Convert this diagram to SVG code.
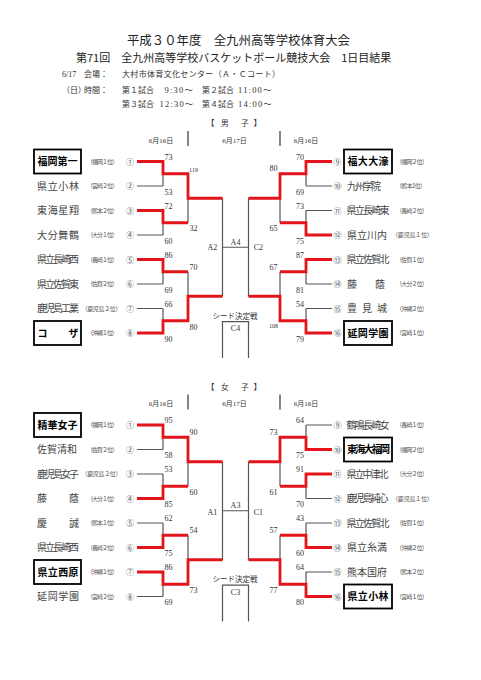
<svg xmlns="http://www.w3.org/2000/svg" width="481" height="680" viewBox="0 0 481 680">
<style>
text{font-family:"Liberation Serif","Noto Sans CJK JP",serif;fill:#333}
.jp{font-family:"Noto Sans CJK JP",sans-serif}
.ttl{font-family:"Noto Sans CJK JP",sans-serif;fill:#222}
.nm{font-family:"Noto Sans CJK JP",sans-serif;font-size:10px;fill:#444}
.bn{font-family:"Noto Sans CJK JP",sans-serif;font-size:10px;font-weight:bold;fill:#000}
.af{font-family:"Noto Sans CJK JP",sans-serif;font-size:6px;fill:#555}
.cn{font-family:"Noto Sans CJK JP",sans-serif;font-size:8px;fill:#555;text-anchor:middle}
.sc{font-size:8px;text-anchor:middle}
.ss{font-size:6px;text-anchor:middle}
.lb{font-size:8px;text-anchor:middle}
.box{fill:none;stroke:#000;stroke-width:1.8}
.g{fill:none;stroke:#555;stroke-width:1.2}
.r{fill:none;stroke:#e3151b;stroke-width:2.8;stroke-linejoin:miter}
.sep{stroke:#333;stroke-width:1.2}
</style>
<defs>
<path id="gb" d="M137,161.5H163M137,186H163M137,210.5H163M137,235H163M137,259.5H163M137,284H163M137,308.5H163M137,333H163M163,161.5V186M163,210.5V235M163,259.5V284M163,308.5V333M163,173.75H188M163,222.75H188M163,271.75H188M163,320.75H188M188,173.75V222.75M188,271.75V320.75M188,198.25H222.5M188,296.25H222.5M222.5,198.25V296.25M222.5,247.25H248.5M306,161.5H332M306,186H332M306,210.5H332M306,235H332M306,259.5H332M306,284H332M306,308.5H332M306,333H332M306,161.5V186M306,210.5V235M306,259.5V284M306,308.5V333M280,173.75H306M280,222.75H306M280,271.75H306M280,320.75H306M280,173.75V222.75M280,271.75V320.75M248.5,198.25H280M248.5,296.25H280M248.5,198.25V296.25M222.5,358V321.7H248.5V358"/>
</defs>

<g id="header">
<text class="ttl" x="238.5" y="45" font-size="12.4" text-anchor="middle">平成３０年度　全九州高等学校体育大会</text>
<text class="ttl" x="76" y="62" font-size="11">第71回　全九州高等学校バスケットボール競技大会　1日目結果</text>
<text x="62" y="77" font-size="8">6/17</text>
<text class="jp" x="84" y="77" font-size="8">会場：</text>
<text class="jp" x="122" y="77" font-size="8" textLength="158" lengthAdjust="spacing">大村市体育文化センター（Ａ・Ｃコート）</text>
<text class="jp" x="62" y="93" font-size="8">（日）</text>
<text class="jp" x="84" y="93" font-size="8">時間：</text>
<text class="jp" x="122" y="93" font-size="8">第１試合</text>
<text x="164.5" y="93" font-size="8.5" letter-spacing="1.2">9:30～</text>
<text class="jp" x="202" y="93" font-size="8">第２試合</text>
<text x="238" y="93" font-size="8.5" letter-spacing="1.2">11:00～</text>
<text class="jp" x="122" y="107" font-size="8">第３試合</text>
<text x="159.5" y="107" font-size="8.5" letter-spacing="1.2">12:30～</text>
<text class="jp" x="202" y="107" font-size="8">第４試合</text>
<text x="238" y="107" font-size="8.5" letter-spacing="1.2">14:00～</text>
</g>

<g id="men-header">
<text class="jp" y="126.4" font-size="8" x="210.5 224.8 244.8 257.5" text-anchor="middle">【男子】</text>
<text x="161" y="142.7" font-size="7" text-anchor="middle">6月16日</text>
<text x="234.5" y="142.7" font-size="7" text-anchor="middle">6月17日</text>
<text x="306" y="142.7" font-size="7" text-anchor="middle">6月16日</text>
<line class="sep" x1="188" y1="131" x2="188" y2="146"/>
<line class="sep" x1="280" y1="131" x2="280" y2="146"/>
</g>

<g id="women-header">
<text class="jp" y="389.9" font-size="8" x="210.5 224.8 244.8 257.5" text-anchor="middle">【女子】</text>
<text x="161" y="406" font-size="7" text-anchor="middle">6月16日</text>
<text x="234.5" y="406" font-size="7" text-anchor="middle">6月17日</text>
<text x="306" y="406" font-size="7" text-anchor="middle">6月16日</text>
<line class="sep" x1="188" y1="394.5" x2="188" y2="409.5"/>
<line class="sep" x1="280" y1="394.5" x2="280" y2="409.5"/>
</g>

<g id="connectors">
<use href="#gb" class="g"/>
<use href="#gb" class="g" transform="translate(0,263.5)"/>
<polyline class="r" points="137,161.5 163,161.5 163,173.75 188,173.75 188,198.25 222.5,198.25"/>
<polyline class="r" points="137,210.5 163,210.5 163,222.75 188,222.75"/>
<polyline class="r" points="137,259.5 163,259.5 163,271.75 188,271.75"/>
<polyline class="r" points="137,333 163,333 163,320.75 188,320.75 188,296.25 222.5,296.25"/>
<polyline class="r" points="332,161.5 306,161.5 306,173.75 280,173.75 280,198.25 248.5,198.25"/>
<polyline class="r" points="332,235 306,235 306,222.75 280,222.75"/>
<polyline class="r" points="332,259.5 306,259.5 306,271.75 280,271.75"/>
<polyline class="r" points="332,333 306,333 306,320.75 280,320.75 280,296.25 248.5,296.25"/>
<polyline class="r" points="137,425 163,425 163,437.25 188,437.25 188,461.75 222.5,461.75"/>
<polyline class="r" points="137,498.5 163,498.5 163,486.25 188,486.25"/>
<polyline class="r" points="137,547.5 163,547.5 163,535.25 188,535.25"/>
<polyline class="r" points="137,572 163,572 163,584.25 188,584.25 188,559.75 222.5,559.75"/>
<polyline class="r" points="332,449.5 306,449.5 306,437.25 280,437.25 280,461.75 248.5,461.75"/>
<polyline class="r" points="332,474 306,474 306,486.25 280,486.25"/>
<polyline class="r" points="332,547.5 306,547.5 306,535.25 280,535.25"/>
<polyline class="r" points="332,596.5 306,596.5 306,584.25 280,584.25 280,559.75 248.5,559.75"/>
</g>

<g id="scores-men">
<text class="sc" x="168.5" y="159.5">73</text><text class="sc" x="168.5" y="194.5">53</text>
<text class="sc" x="168.5" y="208.5">72</text><text class="sc" x="168.5" y="243.5">60</text>
<text class="sc" x="168.5" y="257.5">86</text><text class="sc" x="168.5" y="292.5">69</text>
<text class="sc" x="168.5" y="306.5">66</text><text class="sc" x="168.5" y="341.5">90</text>
<text class="ss" x="193.5" y="172">119</text><text class="sc" x="193.5" y="231.1">32</text>
<text class="sc" x="193.5" y="270.1">70</text><text class="sc" x="193.5" y="329.5">80</text>
<text class="sc" x="300" y="159.5">70</text><text class="sc" x="300" y="194.5">69</text>
<text class="sc" x="300" y="208.5">73</text><text class="sc" x="300" y="243.5">75</text>
<text class="sc" x="300" y="257.5">87</text><text class="sc" x="300" y="292.5">81</text>
<text class="sc" x="300" y="306.5">54</text><text class="sc" x="300" y="341.5">79</text>
<text class="sc" x="273.5" y="171.1">80</text><text class="sc" x="273.5" y="231.1">65</text>
<text class="sc" x="273.5" y="270.1">67</text><text class="ss" x="273.5" y="328">108</text>
<text class="lb" x="212.3" y="250.1">A2</text>
<text class="lb" x="235.5" y="245.1">A4</text>
<text class="lb" x="258.3" y="250.1">C2</text>
<text class="jp" x="235" y="318.5" font-size="7.5" text-anchor="middle">シード決定戦</text>
<text class="lb" x="235.5" y="331.1">C4</text>
</g>

<g id="scores-women">
<text class="sc" x="168.5" y="423">95</text><text class="sc" x="168.5" y="458">58</text>
<text class="sc" x="168.5" y="472">53</text><text class="sc" x="168.5" y="507">85</text>
<text class="sc" x="168.5" y="521">62</text><text class="sc" x="168.5" y="556">75</text>
<text class="sc" x="168.5" y="570">86</text><text class="sc" x="168.5" y="605">69</text>
<text class="sc" x="193.5" y="435">90</text><text class="sc" x="193.5" y="494.5">60</text>
<text class="sc" x="193.5" y="533">54</text><text class="sc" x="193.5" y="592.8">73</text>
<text class="sc" x="300" y="423">64</text><text class="sc" x="300" y="458">75</text>
<text class="sc" x="300" y="472">91</text><text class="sc" x="300" y="507">70</text>
<text class="sc" x="300" y="521">43</text><text class="sc" x="300" y="556">60</text>
<text class="sc" x="300" y="570">64</text><text class="sc" x="300" y="605">80</text>
<text class="sc" x="273.5" y="435">73</text><text class="sc" x="273.5" y="494.5">61</text>
<text class="sc" x="273.5" y="533">57</text><text class="sc" x="273.5" y="592.8">77</text>
<text class="lb" x="212.3" y="514.5">A1</text>
<text class="lb" x="235.5" y="507.8">A3</text>
<text class="lb" x="258.3" y="514.5">C1</text>
<text class="jp" x="235" y="582" font-size="7.5" text-anchor="middle">シード決定戦</text>
<text class="lb" x="235.5" y="594.5">C3</text>
</g>

<g id="m1"><rect class="box" x="34" y="149.5" width="47" height="24"/><text class="bn" x="37.5" y="165.2" textLength="40" lengthAdjust="spacing">福岡第一</text><text class="af" x="87" y="163.8" textLength="31" lengthAdjust="spacing">（福岡１位）</text><text class="cn" x="130" y="164.5">①</text></g>
<g id="m2"><text class="nm" x="37" y="189.7" textLength="42" lengthAdjust="spacing">県立小林</text><text class="af" x="87" y="188.3" textLength="31" lengthAdjust="spacing">（宮崎２位）</text><text class="cn" x="130" y="189">②</text></g>
<g id="m3"><text class="nm" x="37" y="214.2" textLength="42" lengthAdjust="spacing">東海星翔</text><text class="af" x="87" y="212.8" textLength="31" lengthAdjust="spacing">（熊本２位）</text><text class="cn" x="130" y="213.5">③</text></g>
<g id="m4"><text class="nm" x="37" y="238.7" textLength="42" lengthAdjust="spacing">大分舞鶴</text><text class="af" x="87" y="237.3" textLength="31" lengthAdjust="spacing">（大分１位）</text><text class="cn" x="130" y="238">④</text></g>
<g id="m5"><text class="nm" x="37" y="263.2" textLength="42" lengthAdjust="spacing">県立長崎西</text><text class="af" x="87" y="261.8" textLength="31" lengthAdjust="spacing">（長崎１位）</text><text class="cn" x="130" y="262.5">⑤</text></g>
<g id="m6"><text class="nm" x="37" y="287.7" textLength="42" lengthAdjust="spacing">県立佐賀東</text><text class="af" x="87" y="286.3" textLength="31" lengthAdjust="spacing">（佐賀２位）</text><text class="cn" x="130" y="287">⑥</text></g>
<g id="m7"><text class="nm" x="37" y="312.2" textLength="42" lengthAdjust="spacing">鹿児島工業</text><text class="af" x="81.5" y="310.8" textLength="40" lengthAdjust="spacing">（鹿児島２位）</text><text class="cn" x="130" y="311.5">⑦</text></g>
<g id="m8"><rect class="box" x="34" y="321" width="47" height="24"/><text class="bn" x="37.5" y="336.7" textLength="41" lengthAdjust="spacing">コザ</text><text class="af" x="87" y="335.3" textLength="31" lengthAdjust="spacing">（沖縄１位）</text><text class="cn" x="130" y="336">⑧</text></g>

<g id="m9"><rect class="box" x="344" y="149.5" width="48" height="24"/><text class="bn" x="347.5" y="165.2" textLength="41" lengthAdjust="spacing">福大大濠</text><text class="af" x="396" y="163.8" textLength="32" lengthAdjust="spacing">（福岡２位）</text><text class="cn" x="337.5" y="164.5">⑨</text></g>
<g id="m10"><text class="nm" x="347" y="189.7" textLength="34" lengthAdjust="spacing">九州学院</text><text class="af" x="396" y="188.3" textLength="30" lengthAdjust="spacing">（熊本1位）</text><text class="cn" x="337.5" y="189">⑩</text></g>
<g id="m11"><text class="nm" x="346.5" y="214.2" textLength="43" lengthAdjust="spacing">県立長崎東</text><text class="af" x="396" y="212.8" textLength="32" lengthAdjust="spacing">（長崎２位）</text><text class="cn" x="337.5" y="213.5">⑪</text></g>
<g id="m12"><text class="nm" x="347" y="238.7" textLength="40" lengthAdjust="spacing">県立川内</text><text class="af" x="392" y="237.3" textLength="41" lengthAdjust="spacing">（鹿児島１位）</text><text class="cn" x="337.5" y="238">⑫</text></g>
<g id="m13"><text class="nm" x="346.5" y="263.2" textLength="43" lengthAdjust="spacing">県立佐賀北</text><text class="af" x="396" y="261.8" textLength="32" lengthAdjust="spacing">（佐賀１位）</text><text class="cn" x="337.5" y="262.5">⑬</text></g>
<g id="m14"><text class="nm" x="347" y="287.7" textLength="38" lengthAdjust="spacing">藤蔭</text><text class="af" x="396" y="286.3" textLength="32" lengthAdjust="spacing">（大分２位）</text><text class="cn" x="337.5" y="287">⑭</text></g>
<g id="m15"><text class="nm" x="347" y="312.2" textLength="40" lengthAdjust="spacing">豊見城</text><text class="af" x="396" y="310.8" textLength="32" lengthAdjust="spacing">（沖縄２位）</text><text class="cn" x="337.5" y="311.5">⑮</text></g>
<g id="m16"><rect class="box" x="344" y="321" width="48" height="24"/><text class="bn" x="347.5" y="336.7" textLength="41" lengthAdjust="spacing">延岡学園</text><text class="af" x="396" y="335.3" textLength="32" lengthAdjust="spacing">（宮崎１位）</text><text class="cn" x="337.5" y="336">⑯</text></g>

<g id="w1"><rect class="box" x="34" y="413" width="47" height="24"/><text class="bn" x="37.5" y="428.7" textLength="40" lengthAdjust="spacing">精華女子</text><text class="af" x="87" y="427.3" textLength="31" lengthAdjust="spacing">（福岡１位）</text><text class="cn" x="130" y="428">①</text></g>
<g id="w2"><text class="nm" x="37" y="453.2" textLength="40" lengthAdjust="spacing">佐賀清和</text><text class="af" x="87" y="451.8" textLength="31" lengthAdjust="spacing">（佐賀２位）</text><text class="cn" x="130" y="452.5">②</text></g>
<g id="w3"><text class="nm" x="37" y="477.7" textLength="42" lengthAdjust="spacing">鹿児島女子</text><text class="af" x="81.5" y="476.3" textLength="40" lengthAdjust="spacing">（鹿児島２位）</text><text class="cn" x="130" y="477">③</text></g>
<g id="w4"><text class="nm" x="37" y="502.2" textLength="42" lengthAdjust="spacing">藤蔭</text><text class="af" x="87" y="500.8" textLength="31" lengthAdjust="spacing">（大分１位）</text><text class="cn" x="130" y="501.5">④</text></g>
<g id="w5"><text class="nm" x="37" y="526.7" textLength="42" lengthAdjust="spacing">慶誠</text><text class="af" x="87" y="525.3" textLength="31" lengthAdjust="spacing">（熊本１位）</text><text class="cn" x="130" y="526">⑤</text></g>
<g id="w6"><text class="nm" x="37" y="551.2" textLength="42" lengthAdjust="spacing">県立長崎西</text><text class="af" x="87" y="549.8" textLength="31" lengthAdjust="spacing">（長崎２位）</text><text class="cn" x="130" y="550.5">⑥</text></g>
<g id="w7"><rect class="box" x="34" y="560" width="47" height="24"/><text class="bn" x="37.5" y="575.7" textLength="41" lengthAdjust="spacing">県立西原</text><text class="af" x="87" y="574.3" textLength="31" lengthAdjust="spacing">（沖縄１位）</text><text class="cn" x="130" y="575">⑦</text></g>
<g id="w8"><text class="nm" x="37" y="600.2" textLength="42" lengthAdjust="spacing">延岡学園</text><text class="af" x="87" y="598.8" textLength="31" lengthAdjust="spacing">（宮崎２位）</text><text class="cn" x="130" y="599.5">⑧</text></g>

<g id="w9"><text class="nm" x="346.5" y="428.7" textLength="43" lengthAdjust="spacing">鶴鳴長崎女</text><text class="af" x="396" y="427.3" textLength="32" lengthAdjust="spacing">（長崎１位）</text><text class="cn" x="337.5" y="428">⑨</text></g>
<g id="w10"><rect class="box" x="344" y="437.5" width="48" height="24"/><text class="bn" x="347" y="453.2" textLength="43" lengthAdjust="spacing">東海大福岡</text><text class="af" x="396" y="451.8" textLength="32" lengthAdjust="spacing">（福岡２位）</text><text class="cn" x="337.5" y="452.5">⑩</text></g>
<g id="w11"><text class="nm" x="346.5" y="477.7" textLength="42" lengthAdjust="spacing">県立中津北</text><text class="af" x="396" y="476.3" textLength="32" lengthAdjust="spacing">（大分２位）</text><text class="cn" x="337.5" y="477">⑪</text></g>
<g id="w12"><text class="nm" x="346.5" y="502.2" textLength="42" lengthAdjust="spacing">鹿児島純心</text><text class="af" x="392" y="500.8" textLength="41" lengthAdjust="spacing">（鹿児島１位）</text><text class="cn" x="337.5" y="501.5">⑫</text></g>
<g id="w13"><text class="nm" x="346.5" y="526.7" textLength="43" lengthAdjust="spacing">県立佐賀北</text><text class="af" x="396" y="525.3" textLength="32" lengthAdjust="spacing">（佐賀１位）</text><text class="cn" x="337.5" y="526">⑬</text></g>
<g id="w14"><text class="nm" x="347" y="551.2" textLength="40" lengthAdjust="spacing">県立糸満</text><text class="af" x="396" y="549.8" textLength="32" lengthAdjust="spacing">（沖縄２位）</text><text class="cn" x="337.5" y="550.5">⑭</text></g>
<g id="w15"><text class="nm" x="347" y="575.7" textLength="40" lengthAdjust="spacing">熊本国府</text><text class="af" x="396" y="574.3" textLength="32" lengthAdjust="spacing">（熊本２位）</text><text class="cn" x="337.5" y="575">⑮</text></g>
<g id="w16"><rect class="box" x="344" y="584.5" width="48" height="24"/><text class="bn" x="347.5" y="600.2" textLength="41" lengthAdjust="spacing">県立小林</text><text class="af" x="396" y="598.8" textLength="32" lengthAdjust="spacing">（宮崎１位）</text><text class="cn" x="337.5" y="599.5">⑯</text></g>
</svg>
